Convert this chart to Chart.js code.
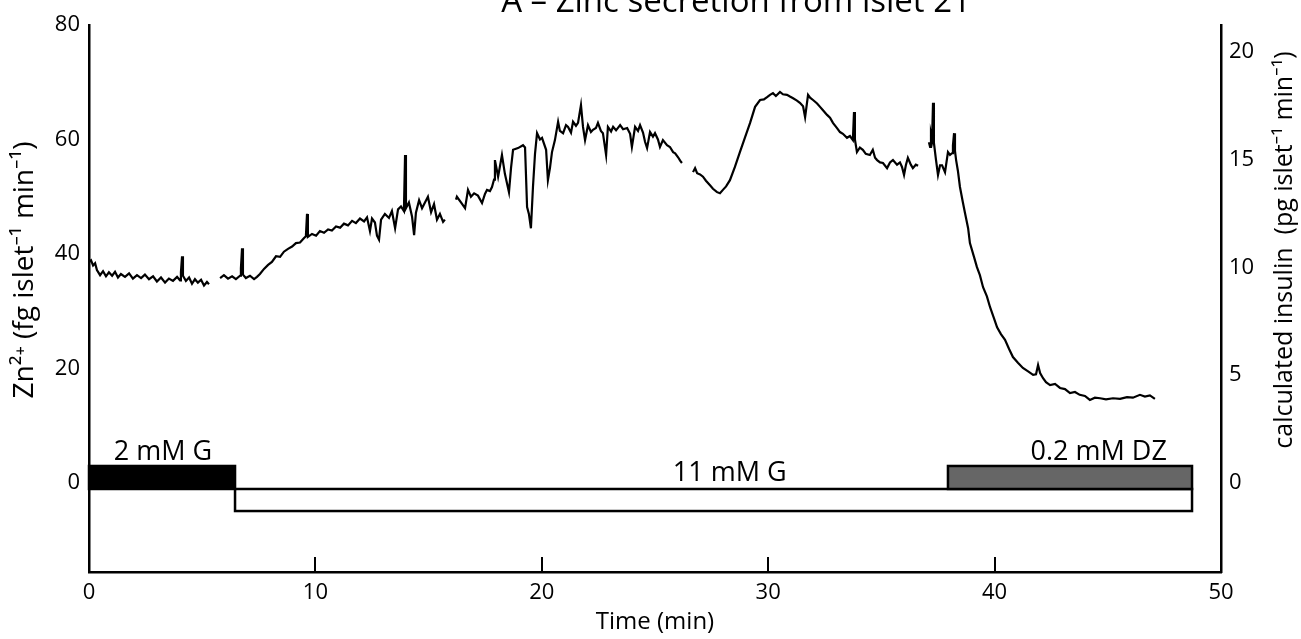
<!DOCTYPE html>
<html><head><meta charset="utf-8">
<script src="https://cdn.jsdelivr.net/npm/chart.js@4.4.0/dist/chart.umd.min.js"></script>
<style>html,body{margin:0;padding:0;background:#fff;overflow:hidden}#wrap{position:relative;width:1301px;height:639px}</style>
</head><body><div id="wrap"><canvas id="c" width="1301" height="639"></canvas></div>
<script>
const chartTitle = 'A – Zinc secretion from islet 21';
const xTitle = 'Time (min)';
const yTitle = 'Zn²⁺ (fg islet⁻¹ min⁻¹)';
const y2Title = 'calculated insulin  (pg islet⁻¹ min⁻¹)';
const xTicks = [0, 10, 20, 30, 40, 50];
const zincTicks = [0, 20, 40, 60, 80];
const insulinTicks = [0, 5, 10, 15, 20];
const fgZincPerPgInsulin = 3.765;

// [time (min), Zn2+ (fg islet-1 min-1)]
const seg1 = [[0,38.6],[0.09,38.9],[0.18,38.0],[0.27,38.4],[0.35,37.2],[0.49,36.3],[0.62,37.0],[0.75,36.1],[0.88,36.8],[1.02,36.2],[1.15,36.9],[1.28,35.9],[1.41,36.5],[1.59,36.0],[1.77,36.6],[1.94,35.7],[2.12,36.3],[2.30,35.8],[2.47,36.4],[2.65,35.6],[2.83,36.1],[3.00,35.2],[3.18,35.9],[3.36,35.0],[3.53,35.7],[3.71,35.3],[3.89,36.0],[4.02,35.4],[4.06,36.8],[4.11,39.6],[4.15,36.2],[4.28,35.3],[4.42,35.9],[4.55,34.8],[4.68,35.6],[4.81,35.0],[4.95,35.5],[5.08,34.5],[5.21,35.1],[5.30,34.7]];
const seg2 = [[5.79,35.8],[5.96,36.3],[6.14,35.7],[6.32,36.1],[6.49,35.6],[6.67,36.2],[6.71,37.5],[6.76,41.0],[6.80,36.4],[6.93,35.8],[7.11,36.2],[7.29,35.6],[7.42,36.0],[7.55,36.5],[7.73,37.4],[7.91,38.1],[8.08,38.6],[8.26,39.6],[8.44,39.5],[8.61,40.4],[8.79,40.9],[8.97,41.3],[9.14,41.9],[9.32,42.0],[9.50,42.8],[9.58,43.1],[9.63,47.0],[9.67,43.0],[9.85,43.5],[10.03,43.2],[10.20,44.0],[10.38,43.7],[10.56,44.3],[10.73,44.1],[10.91,44.8],[11.09,44.6],[11.26,45.3],[11.44,45.0],[11.62,45.8],[11.79,45.4],[11.97,46.2],[12.15,45.7],[12.28,46.4],[12.41,44.0],[12.50,46.2],[12.63,45.5],[12.72,43.2],[12.81,42.5],[12.90,46.0],[13.07,47.0],[13.25,46.3],[13.38,47.5],[13.52,44.5],[13.65,47.8],[13.78,48.3],[13.91,47.5],[13.96,57.3],[14.00,48.0],[14.13,49.0],[14.27,46.5],[14.36,43.3],[14.44,47.2],[14.58,49.4],[14.71,48.0],[14.84,49.0],[14.97,50.0],[15.11,47.3],[15.24,48.7],[15.37,46.0],[15.50,47.0],[15.64,45.6],[15.72,46.0]];
const seg3 = [[16.21,49.5],[16.25,50.0],[16.43,49.0],[16.61,48.0],[16.74,51.2],[16.87,50.0],[17.01,50.6],[17.18,50.2],[17.36,48.9],[17.49,50.5],[17.58,51.2],[17.71,51.0],[17.80,51.7],[17.89,53.0],[17.93,56.4],[18.07,53.5],[18.24,57.3],[18.37,54.0],[18.55,50.8],[18.64,55.0],[18.73,58.2],[18.95,58.5],[19.17,59.0],[19.26,58.6],[19.35,48.2],[19.43,47.0],[19.52,44.5],[19.61,51.7],[19.70,57.5],[19.79,61.1],[19.92,60.0],[20.01,60.3],[20.19,58.2],[20.27,52.9],[20.36,55.0],[20.45,57.8],[20.58,59.9],[20.72,63.1],[20.80,61.5],[20.94,61.1],[21.07,62.5],[21.16,62.2],[21.29,61.2],[21.38,63.1],[21.51,62.4],[21.60,62.9],[21.73,66.0],[21.82,62.2],[21.91,59.9],[22.04,62.5],[22.17,61.3],[22.26,61.7],[22.39,62.0],[22.48,62.9],[22.61,61.5],[22.70,61.1],[22.84,57.3],[22.92,62.2],[23.06,61.4],[23.15,62.2],[23.28,61.6],[23.46,62.5],[23.59,61.8],[23.77,62.0],[23.90,61.0],[23.98,58.7],[24.12,62.2],[24.25,61.5],[24.34,62.5],[24.47,61.2],[24.56,59.6],[24.65,58.5],[24.78,61.3],[24.91,60.5],[25.00,61.1],[25.13,60.0],[25.22,58.7],[25.35,59.9],[25.53,59.0],[25.66,58.7],[25.80,57.8],[25.89,57.6],[26.02,56.9],[26.11,56.3],[26.19,55.9]];
const seg4 = [[26.68,54.3],[26.77,55.0],[26.86,54.1],[26.99,53.9],[27.12,53.5],[27.25,52.8],[27.43,52.0],[27.56,51.4],[27.74,50.8],[27.87,50.6],[28.00,51.2],[28.14,51.8],[28.31,52.9],[28.53,55.2],[28.75,57.8],[28.98,60.4],[29.20,62.9],[29.42,65.7],[29.64,66.9],[29.81,67.0],[29.95,67.4],[30.08,67.8],[30.21,68.1],[30.34,67.6],[30.52,68.3],[30.65,67.9],[30.83,67.8],[30.96,67.5],[31.10,67.2],[31.27,66.8],[31.40,66.4],[31.54,65.8],[31.63,63.9],[31.76,67.8],[31.85,67.3],[31.98,66.9],[32.16,66.3],[32.29,65.7],[32.42,65.1],[32.60,64.3],[32.73,63.8],[32.86,62.9],[33.04,62.0],[33.17,61.3],[33.30,61.0],[33.48,60.3],[33.61,60.6],[33.74,59.9],[33.79,64.8],[33.83,60.0],[33.92,57.8],[34.05,58.6],[34.18,58.2],[34.31,57.5],[34.49,57.3],[34.62,58.2],[34.72,56.8],[34.81,56.4],[34.94,56.0],[35.07,55.9],[35.25,55.0],[35.38,56.0],[35.51,56.4],[35.69,55.6],[35.82,56.0],[35.91,55.2],[36.00,53.8],[36.08,55.5],[36.17,56.8],[36.30,55.6],[36.39,55.0],[36.52,55.6],[36.62,55.4]];
const seg5 = [[37.10,59.5],[37.15,58.7],[37.19,61.1],[37.24,60.2],[37.28,66.4],[37.32,59.4],[37.41,56.5],[37.50,53.8],[37.59,55.5],[37.68,55.5],[37.81,54.3],[37.94,57.8],[38.03,57.3],[38.12,57.6],[38.16,59.0],[38.21,61.1],[38.25,58.0],[38.30,56.4],[38.38,54.5],[38.47,51.7],[38.60,49.0],[38.69,47.2],[38.83,44.5],[38.91,41.9],[39.09,39.5],[39.22,37.7],[39.35,36.3],[39.49,34.2],[39.66,32.6],[39.80,30.7],[39.97,28.8],[40.11,27.2],[40.28,26.0],[40.46,25.0],[40.64,23.4],[40.81,22.0],[41.03,21.0],[41.25,20.1],[41.48,19.5],[41.70,18.9],[41.83,19.0],[41.92,20.6],[42.01,19.2],[42.14,18.3],[42.27,17.6],[42.45,17.1],[42.67,17.3],[42.89,16.6],[43.11,16.4],[43.33,15.7],[43.55,15.9],[43.76,15.4],[43.99,15.2],[44.21,14.5],[44.43,14.9],[44.66,14.8],[44.92,14.6],[45.23,14.8],[45.54,14.7],[45.85,15.0],[46.11,14.9],[46.42,15.4],[46.64,15.1],[46.86,15.3],[47.08,14.7]];
const gapTimes = [5.55, 15.95, 26.45, 36.85];

// Perfusion protocol
const protocolLabels = ['2 mM G', '11 mM G', '0.2 mM DZ'];
const protocolStart = [0, 6.45, 37.94];
const protocolEnd = [6.45, 48.72, 48.72];

const FONT = "'Open Sans','Noto Sans','DejaVu Sans',sans-serif";

const segments = [seg1, seg2, seg3, seg4, seg5];
const traceData = [];
segments.forEach((seg, i) => {
  seg.forEach(p => traceData.push({x: p[0], y: p[1]}));
  if (i < gapTimes.length) traceData.push({x: gapTimes[i], y: null});
});

const decorPlugin = {
  id: 'decor',
  afterDatasetsDraw(chart, args, o) {
    const ctx = chart.ctx, xs = chart.scales.x, ys = chart.scales.y, ca = chart.chartArea;
    ctx.save();
    const order = [1, 0, 2];
    order.forEach(i => {
      const b = o.boxes[i];
      const x0 = xs.getPixelForValue(protocolStart[i]);
      const x1 = xs.getPixelForValue(protocolEnd[i]);
      const y0 = ys.getPixelForValue(b.top);
      const y1 = ys.getPixelForValue(b.bottom);
      ctx.fillStyle = b.fill;
      ctx.fillRect(x0, y0, x1 - x0, y1 - y0);
      ctx.lineWidth = 2.5;
      ctx.strokeStyle = '#000';
      ctx.strokeRect(x0, y0, x1 - x0, y1 - y0);
    });
    ctx.fillStyle = '#000';
    ctx.font = '27px ' + FONT;
    ctx.textAlign = 'center';
    ctx.textBaseline = 'middle';
    protocolLabels.forEach((t, i) => {
      const lp = o.labelPos[i];
      ctx.fillText(t, xs.getPixelForValue(lp.x), ys.getPixelForValue(lp.y));
    });
    ctx.lineWidth = 2;
    xTicks.forEach(v => {
      if (v <= xs.min || v >= xs.max) return;
      const x = Math.round(xs.getPixelForValue(v));
      ctx.beginPath();
      ctx.moveTo(x, ca.bottom);
      ctx.lineTo(x, ca.bottom - 15);
      ctx.stroke();
    });
    // y-axis titles (both read bottom-to-top)
    [[yTitle, o.yTitleX, o.yTitleY, 28], [y2Title, o.y2TitleX, o.y2TitleY, 25]].forEach(([t, x, y, fs]) => {
      ctx.save();
      ctx.font = fs + 'px ' + FONT;
      ctx.translate(x, y);
      ctx.rotate(-Math.PI / 2);
      ctx.fillText(t, 0, 0);
      ctx.restore();
    });
    // chart title (partly clipped at the top edge)
    ctx.font = '33px ' + FONT;
    ctx.textBaseline = 'alphabetic';
    ctx.fillText(chartTitle, o.titleX, o.titleY);
    ctx.restore();
  }
};

const tickFont = {family: FONT, size: 22};
const titleFont = {family: FONT, size: 24};

new Chart(document.getElementById('c'), {
  type: 'line',
  data: {
    datasets: [{
      label: 'Zn2+',
      data: traceData,
      borderColor: '#000',
      borderWidth: 2.2,
      pointRadius: 0,
      tension: 0,
      spanGaps: false,
      yAxisID: 'y'
    }]
  },
  options: {
    responsive: false,
    animation: false,
    layout: {padding: {top: 25, left: 0, right: 0, bottom: 0}},
    plugins: {
      legend: {display: false},
      tooltip: {enabled: false},
      decor: {
        boxes: [
          {top: 2.97, bottom: -1.05, fill: '#000000'},
          {top: -1.05, bottom: -4.9, fill: '#ffffff'},
          {top: 2.97, bottom: -1.05, fill: '#666666'}
        ],
        labelPos: [{x: 3.27, y: 5.4}, {x: 28.3, y: 1.75}, {x: 44.6, y: 5.4}],
        yTitleX: 25, yTitleY: 270,
        y2TitleX: 1285, y2TitleY: 250,
        titleX: 736, titleY: 12
      }
    },
    scales: {
      x: {
        type: 'linear', min: 0, max: 50,
        afterBuildTicks: s => { s.ticks = xTicks.map(v => ({value: v})); },
        afterFit: s => { s.height = 67; },
        ticks: {font: tickFont, color: '#000', padding: 8, maxRotation: 0},
        grid: {display: false, drawTicks: false},
        border: {display: true, color: '#000', width: 2.5},
        title: {display: true, text: xTitle, font: titleFont, color: '#000', padding: {top: 0, bottom: 2}}
      },
      y: {
        type: 'linear', position: 'left', min: -15.55, max: 80,
        afterBuildTicks: s => { s.ticks = zincTicks.map(v => ({value: v})); },
        afterFit: s => { s.width = 89; },
        ticks: {font: tickFont, color: '#000', padding: 9},
        grid: {display: false, drawTicks: false},
        border: {display: true, color: '#000', width: 2.5}
      },
      y2: {
        type: 'linear', position: 'right', min: -15.55 / fgZincPerPgInsulin, max: 80 / fgZincPerPgInsulin,
        afterBuildTicks: s => { s.ticks = insulinTicks.map(v => ({value: v})); },
        afterFit: s => { s.width = 80; },
        ticks: {font: tickFont, color: '#000', padding: 8},
        grid: {display: false, drawTicks: false},
        border: {display: true, color: '#000', width: 2.5}
      }
    }
  },
  plugins: [decorPlugin]
});
</script></body></html>
